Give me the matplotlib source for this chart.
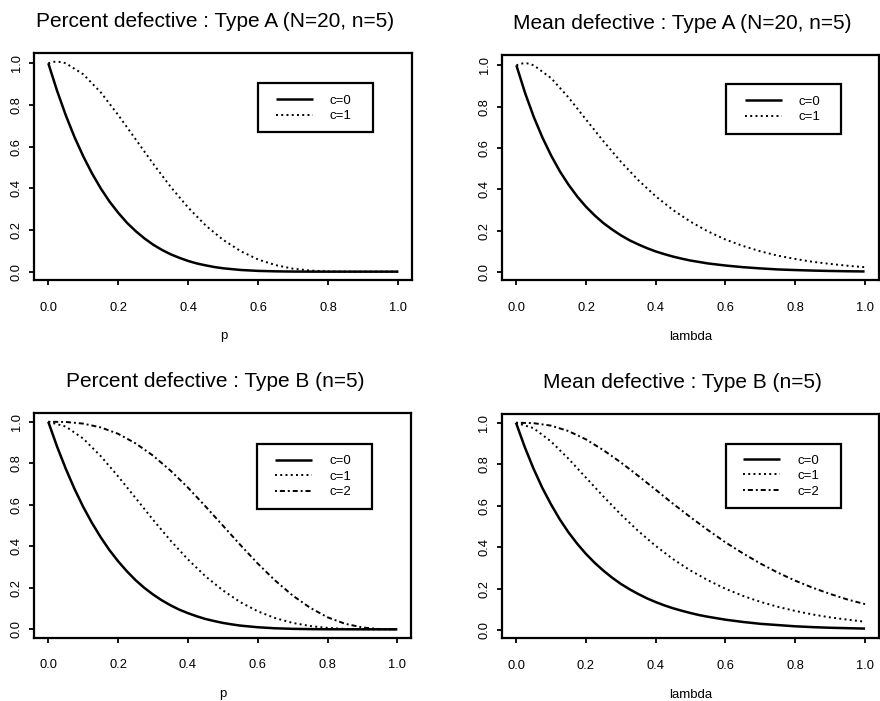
import matplotlib
matplotlib.use("Agg")
import matplotlib.pyplot as plt
from matplotlib.patches import Rectangle

plt.rcParams['font.family'] = ['Liberation Sans', 'DejaVu Sans']

# ---------------- data ----------------
tick_values = [0.0, 0.2, 0.4, 0.6, 0.8, 1.0]
tick_labels = ["0.0", "0.2", "0.4", "0.6", "0.8", "1.0"]

grid = [0.0, 0.05, 0.1, 0.15, 0.2, 0.25, 0.3, 0.35, 0.4, 0.45, 0.5,
        0.55, 0.6, 0.65, 0.7, 0.75, 0.8, 0.85, 0.9, 0.95, 1.0]
grid_fine = [0.0, 0.025, 0.05, 0.075, 0.1, 0.125, 0.15, 0.175, 0.2, 0.225,
             0.25, 0.275, 0.3, 0.325, 0.35, 0.375, 0.4, 0.425, 0.45, 0.475,
             0.5, 0.525, 0.55, 0.6, 0.65, 0.7, 0.75, 0.8, 0.85, 0.9, 0.95, 1.0]
grid_bump = [0.0, 0.01, 0.02, 0.03, 0.04, 0.05, 0.1, 0.15, 0.2, 0.25, 0.3,
             0.35, 0.4, 0.45, 0.5, 0.55, 0.6, 0.65, 0.7, 0.75, 0.8, 0.85,
             0.9, 0.95, 1.0]

# Percent defective : Type A (N=20, n=5)
pa_c0 = [1.0, 0.868, 0.750, 0.645, 0.553, 0.471, 0.399, 0.336, 0.282, 0.234,
         0.194, 0.159, 0.129, 0.104, 0.083, 0.066, 0.051, 0.039, 0.030, 0.022,
         0.016, 0.012, 0.008, 0.0036, 0.0014, 0.0004, 0.0001, 0.0, 0.0, 0.0,
         0.0, 0.0]
pa_c1 = [1.0, 1.005, 1.008, 1.007, 1.005, 1.000, 0.947, 0.860, 0.751, 0.634,
         0.517, 0.406, 0.307, 0.221, 0.152, 0.098, 0.058, 0.031, 0.014, 0.005,
         0.001, 0.0, 0.0, 0.0, 0.0]

# Mean defective : Type A (N=20, n=5)
ma_c0 = [1.0, 0.866, 0.750, 0.650, 0.563, 0.487, 0.422, 0.365, 0.316, 0.274,
         0.237, 0.206, 0.178, 0.154, 0.134, 0.116, 0.100, 0.087, 0.075, 0.065,
         0.056, 0.049, 0.042, 0.032, 0.024, 0.018, 0.013, 0.010, 0.0075,
         0.0056, 0.0042, 0.0032]
ma_c1 = [1.0, 1.007, 1.010, 1.010, 1.006, 1.000, 0.938, 0.844, 0.738, 0.633,
         0.534, 0.445, 0.367, 0.300, 0.244, 0.197, 0.158, 0.127, 0.101, 0.080,
         0.064, 0.050, 0.040, 0.031, 0.024]

# Percent defective : Type B (n=5)
pb_c0 = [1.0, 0.881, 0.774, 0.677, 0.590, 0.513, 0.444, 0.382, 0.328, 0.280,
         0.237, 0.200, 0.168, 0.140, 0.116, 0.095, 0.078, 0.063, 0.050, 0.040,
         0.031, 0.024, 0.018, 0.010, 0.005, 0.0024, 0.001, 0.0003, 0.0001,
         0.0, 0.0, 0.0]
pb_c1 = [1.0, 0.977, 0.919, 0.835, 0.737, 0.633, 0.528, 0.428, 0.337, 0.256,
         0.188, 0.131, 0.087, 0.054, 0.031, 0.016, 0.007, 0.002, 0.0005, 0.0, 0.0]
pb_c2 = [1.0, 0.999, 0.991, 0.973, 0.942, 0.896, 0.837, 0.765, 0.683, 0.593,
         0.500, 0.407, 0.317, 0.235, 0.163, 0.104, 0.058, 0.027, 0.009, 0.001, 0.0]

# Mean defective : Type B (n=5)
mb_c0 = [1.0, 0.883, 0.779, 0.687, 0.607, 0.535, 0.472, 0.417, 0.368, 0.325,
         0.287, 0.253, 0.223, 0.197, 0.174, 0.153, 0.135, 0.119, 0.105, 0.093,
         0.082, 0.072, 0.064, 0.050, 0.039, 0.030, 0.024, 0.018, 0.014, 0.011,
         0.009, 0.007]
mb_c1 = [1.0, 0.974, 0.910, 0.827, 0.736, 0.645, 0.558, 0.478, 0.406, 0.342,
         0.287, 0.240, 0.199, 0.165, 0.136, 0.112, 0.092, 0.075, 0.061, 0.050, 0.040]
mb_c2 = [1.0, 0.998, 0.986, 0.960, 0.920, 0.868, 0.809, 0.744, 0.677, 0.609,
         0.544, 0.482, 0.423, 0.370, 0.321, 0.277, 0.238, 0.204, 0.174, 0.147, 0.125]

labels = ["c=0", "c=1", "c=2"]
titles = ["Percent defective : Type A (N=20, n=5)",
          "Mean defective : Type A (N=20, n=5)",
          "Percent defective : Type B (n=5)",
          "Mean defective : Type B (n=5)"]
xlabels = ["p", "lambda", "p", "lambda"]

# ---------------- styling ----------------
STYLES = [("-", 1.8), ((0, (1, 1.7)), 1.4), ((0, (1, 1.5, 2.6, 1.5)), 1.4)]

fig = plt.figure(figsize=(8.8, 7.01), dpi=100)


def panel(rect, title, xlabel, series, ylim, anchor, frame):
    ax = fig.add_axes(rect)
    for i, (x, y) in enumerate(series):
        ls, lw = STYLES[i]
        ax.plot(x, y, color="black", linestyle=ls, lw=lw, label=labels[i],
                solid_capstyle="butt", dash_capstyle="butt",
                solid_joinstyle="round")
    ax.set_xlim(-0.04, 1.04)
    ax.set_ylim(*ylim)
    ax.set_xticks(tick_values)
    ax.set_xticklabels(tick_labels)
    ax.set_yticks(tick_values)
    ax.set_yticklabels(tick_labels)
    for s in ax.spines.values():
        s.set_linewidth(1.6)
    ax.tick_params(direction="out", length=3.5, width=1.3, labelsize=9.3,
                   colors="black")
    ax.tick_params(axis="x", pad=12)
    ax.tick_params(axis="y", pad=5)
    for lab in ax.get_yticklabels():
        lab.set_rotation(90)
        lab.set_va("center")
        lab.set_ha("right")
    ax.set_title(title, fontsize=15, pad=19, x=0.479)
    ax.set_xlabel(xlabel, fontsize=9.5, labelpad=12)
    ax.legend(loc="upper left", bbox_to_anchor=anchor, frameon=False,
              fontsize=9.5, handlelength=2.8, handletextpad=1.3,
              labelspacing=0.25, borderpad=0, borderaxespad=0)
    x0, x1, y0, y1 = frame
    ax.add_patch(Rectangle((x0, y0), x1 - x0, y1 - y0, transform=ax.transAxes,
                           fill=False, lw=1.6, ec="black", clip_on=False))
    return ax


panel([0.039, 0.6006, 0.4295, 0.3234], titles[0], xlabels[0],
      [(grid_fine, pa_c0), (grid_bump, pa_c1)], (-0.040, 1.048),
      (0.639, 0.818), (0.593, 0.896, 0.652, 0.868))
panel([0.571, 0.5999, 0.4273, 0.3217], titles[1], xlabels[1],
      [(grid_fine, ma_c0), (grid_bump, ma_c1)], (-0.0404, 1.0504),
      (0.644, 0.820), (0.595, 0.901, 0.649, 0.871))
panel([0.039, 0.0904, 0.4284, 0.3198], titles[2], xlabels[2],
      [(grid_fine, pb_c0), (grid, pb_c1), (grid, pb_c2)], (-0.04, 1.04),
      (0.639, 0.815), (0.590, 0.896, 0.573, 0.865))
panel([0.5705, 0.0894, 0.4284, 0.3194], titles[3], xlabels[3],
      [(grid_fine, mb_c0), (grid, mb_c1), (grid, mb_c2)], (-0.04, 1.04),
      (0.640, 0.822), (0.594, 0.898, 0.582, 0.869))

fig.savefig("out.png", dpi=100, facecolor="white")
